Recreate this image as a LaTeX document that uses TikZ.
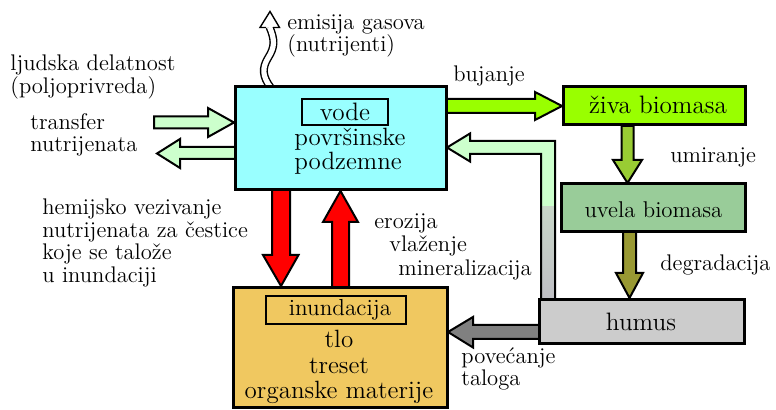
\documentclass[tikz,border=0pt]{standalone}
\usepackage{fontspec}
\definecolor{cvode}{HTML}{99FFFF}
\definecolor{cziva}{HTML}{99FF00}
\definecolor{cuvela}{HTML}{99CC99}
\definecolor{chumus}{HTML}{CCCCCC}
\definecolor{ctlo}{HTML}{F0C860}
\definecolor{clgreen}{HTML}{CCFFCC}
\definecolor{cumir}{HTML}{99CC33}
\definecolor{cdegr}{HTML}{999933}
\definecolor{cgray}{HTML}{808080}
\definecolor{cshtop}{RGB}{200,214,200}
\definecolor{cshbot}{RGB}{190,190,196}
\begin{document}
\begin{tikzpicture}[x=0.5pt,y=-0.5pt,
  box/.style={draw=black,line width=1.5pt,rectangle,inner sep=0pt},
  ibox/.style={draw=black,line width=0.8pt,rectangle,inner sep=0pt},
  barrow/.style={draw=black,line width=1pt,line join=miter},
  lbl/.style={font=\fontsize{11.3}{11.25}\selectfont,inner sep=0pt,align=left,anchor=west},
  btxt/.style={font=\fontsize{12.6}{12.6}\selectfont,inner sep=0pt}]
\useasboundingbox (0,0) rectangle (776,410);

% ---- block arrows (drawn before boxes) ----
% bujanje
\filldraw[barrow,fill=cziva] (446,99)--(535,99)--(535,92)--(562,106)--(535,120)--(535,113)--(446,113)--cycle;
% umiranje
\filldraw[barrow,fill=cumir] (621.5,126)--(621.5,160)--(613,160)--(627.5,183)--(642,160)--(633.5,160)--(633.5,126)--cycle;
% degradacija
\filldraw[barrow,fill=cdegr] (623,232)--(623,273)--(616,273)--(629.5,298)--(643,273)--(636,273)--(636,232)--cycle;
% humus -> tlo
\filldraw[barrow,fill=cgray] (539,325)--(473,325)--(473,317)--(448,332)--(473,347.5)--(473,339)--(539,339)--cycle;
% red arrows
\filldraw[barrow,fill=red] (272,190)--(272,255)--(263,255)--(281,286)--(298.5,255)--(290,255)--(290,190)--cycle;
\filldraw[barrow,fill=red] (332,288)--(332,222)--(323,222)--(340.5,191)--(358,222)--(349,222)--(349,288)--cycle;
% transfer arrows
\filldraw[barrow,fill=clgreen] (154,116.5)--(208,116.5)--(208,108)--(234,122.5)--(208,137)--(208,128.5)--(154,128.5)--cycle;
\filldraw[barrow,fill=clgreen] (235,147)--(180,147)--(180,139)--(157,153.5)--(180,168)--(180,159)--(235,159)--cycle;
% humus -> vode return arrow
\fill[clgreen] (447,147.5)--(470,133.5)--(470,141)--(555,141)--(555,300)--(541,300)--(541,154)--(470,154)--(470,161.5)--cycle;
\shade[top color=cshtop,bottom color=cshbot] (541,207) rectangle (555,300);
\draw[barrow] (447,147.5)--(470,133.5)--(470,141)--(555,141)--(555,300)--(541,300)--(541,154)--(470,154)--(470,161.5)--cycle;
% emission wavy arrow
\draw[line width=0.7pt,double=white,double distance=2.6pt]
  (271,88) .. controls (262,76) and (262,68) .. (268,58)
           .. controls (275,47) and (275,40) .. (269.5,27);
\filldraw[fill=white,draw=black,line width=0.7pt,line join=miter]
  (266,27.5)--(260,27.5)--(270,11.5)--(279.5,27.5)--(273,27.5);

% ---- boxes ----
\node[box,fill=cvode,minimum width=105.5pt,minimum height=51.5pt] (vode) at (340.5,138.5) {};
\node[ibox,minimum width=43pt,minimum height=13pt] (vodeb) at (345,112) {};
\node[btxt] (vodet) at (345,112) {vode};
\node[btxt,anchor=west,align=left,font=\fontsize{12.5}{10.6}\selectfont] (vodel) at (294,151) {površinske\\podzemne};

\node[box,fill=cziva,minimum width=91pt,minimum height=19pt] (ziva) at (654,106) {};
\node[btxt] (zivat) at (658,105) {živa biomasa};

\node[box,fill=cuvela,minimum width=92pt,minimum height=24pt] (uvela) at (653,208) {};
\node[btxt,font=\fontsize{11.4}{11.4}\selectfont] (uvelat) at (653.5,210) {uvela biomasa};

\node[box,fill=chumus,minimum width=102.5pt,minimum height=22pt] (humus) at (641.5,322) {};
\node[btxt] (humust) at (641,322) {humus};

\node[box,fill=ctlo,minimum width=107pt,minimum height=60pt] (tlo) at (340,348) {};
\node[ibox,minimum width=70pt,minimum height=14pt] (inund) at (336,310) {};
\node[btxt,font=\fontsize{11.6}{11.6}\selectfont] (inundt) at (340,310) {inundacija};
\node[btxt,align=center,font=\fontsize{12.5}{12.75}\selectfont] (tlot) at (339,367) {tlo\\treset\\organske materije};

% ---- labels ----
\node[lbl] (l1) at (287,36) {emisija gasova\\(nutrijenti)};
\node[lbl] (l2) at (10,77) {ljudska delatnost\\(poljoprivreda)};
\node[lbl] (l3) at (30,135) {transfer\\nutrijenata};
\node[lbl] (l4) at (42,243) {hemijsko vezivanje\\nutrijenata za čestice\\koje se talože\\u inundaciji};
\node[lbl] (l5) at (374,223) {erozija};
\node[lbl] (l6) at (389,246) {vlaženje};
\node[lbl] (l7) at (398,270) {mineralizacija};
\node[lbl] (l8) at (453,76) {bujanje};
\node[lbl] (l9) at (670,157) {umiranje};
\node[lbl] (l10) at (660,265) {degradacija};
\node[lbl] (l11) at (461,369) {povećanje\\taloga};
\end{tikzpicture}
\end{document}
